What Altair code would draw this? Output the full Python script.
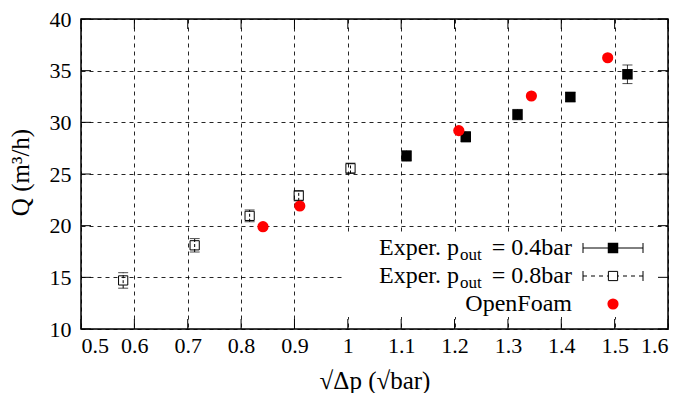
import altair as alt
import pandas as pd

# ---- data ----
x_04 = [1.110, 1.221, 1.318, 1.417, 1.524]
q_04 = [26.75, 28.6, 30.75, 32.45, 34.65]
e_04 = [0.5, 0.5, 0.5, 0.45, 0.9]

x_08 = [0.579, 0.713, 0.816, 0.908, 1.005]
q_08 = [14.7, 18.1, 20.95, 22.9, 25.55]
e_08 = [0.75, 0.65, 0.57, 0.5, 0.5]

x_of = [0.841, 0.910, 1.208, 1.344, 1.487]
q_of = [19.9, 21.9, 29.2, 32.55, 36.25]

x_ticks = [0.5, 0.6, 0.7, 0.8, 0.9, 1.0, 1.1, 1.2, 1.3, 1.4, 1.5, 1.6]
y_ticks = [10, 15, 20, 25, 30, 35, 40]

W, H = 587, 310
FONT = "Liberation Serif"

df04 = pd.DataFrame({"x": x_04, "q": q_04, "e": e_04})
df08 = pd.DataFrame({"x": x_08, "q": q_08, "e": e_08})
dfof = pd.DataFrame({"x": x_of, "q": q_of})
dfx = pd.DataFrame({"t": x_ticks})
dfy = pd.DataFrame({"t": y_ticks})
one = pd.DataFrame({"a": [0]})

xs = alt.Scale(domain=[0.5, 1.6], nice=False, zero=False)
ys = alt.Scale(domain=[10, 40], nice=False, zero=False)

xax = alt.Axis(values=x_ticks, format="~g", grid=True, gridDash=[4, 4], gridColor="#000",
               gridOpacity=0.85, domain=False, ticks=False, labelFont=FONT, labelFontSize=22,
               labelColor="#000", labelPadding=6, title="√Δp (√bar)", titleFont=FONT,
               titleFontSize=25, titleFontWeight="normal", titleColor="#000",
               titleX=W / 2, titleY=51, titleBaseline="middle", titleAnchor="middle")
yax = alt.Axis(values=y_ticks, grid=True, gridDash=[4, 4], gridColor="#000", gridOpacity=0.85,
               domain=False, ticks=False, labelFont=FONT, labelFontSize=22, labelColor="#000",
               labelPadding=10, title="Q (m³/h)", titleFont=FONT, titleFontSize=25,
               titleFontWeight="normal", titleColor="#000", titleX=-61, titleY=H / 2 - 2,
               titleAngle=-90, titleBaseline="middle", titleAlign="center")

base_grid = alt.Chart(dfof).mark_point(opacity=0).encode(
    x=alt.X("x:Q", scale=xs, axis=xax), y=alt.Y("q:Q", scale=ys, axis=yax))

# legend white box
leg_box = alt.Chart(one).mark_rect(fill="white").encode(
    x=alt.value(264), x2=alt.value(W), y=alt.value(214), y2=alt.value(298))

def errbars(df, dash):
    b = alt.Chart(df).transform_calculate(lo="datum.q - datum.e", hi="datum.q + datum.e")
    r = b.mark_rule(color="#000", strokeWidth=1, strokeDash=dash).encode(
        x=alt.X("x:Q", scale=xs), y=alt.Y("lo:Q", scale=ys), y2="hi:Q")
    c1 = b.mark_tick(orient="horizontal", size=10, thickness=1, color="#000").encode(
        x=alt.X("x:Q", scale=xs), y=alt.Y("lo:Q", scale=ys))
    c2 = b.mark_tick(orient="horizontal", size=10, thickness=1, color="#000").encode(
        x=alt.X("x:Q", scale=xs), y=alt.Y("hi:Q", scale=ys))
    return r + c1 + c2

eb04 = errbars(df04, [1, 0])
eb08 = errbars(df08, [3, 2])

sq04 = alt.Chart(df04).mark_square(size=110, color="#000", opacity=1).encode(
    x=alt.X("x:Q", scale=xs), y=alt.Y("q:Q", scale=ys))
sq08 = alt.Chart(df08).mark_point(shape="square", size=85, filled=False, color="#000",
                                  strokeWidth=1, opacity=1).encode(
    x=alt.X("x:Q", scale=xs), y=alt.Y("q:Q", scale=ys))
of = alt.Chart(dfof).mark_circle(size=125, color="#ff0000", opacity=1).encode(
    x=alt.X("x:Q", scale=xs), y=alt.Y("q:Q", scale=ys))

# inward ticks on all four sides
tk_b = alt.Chart(dfx).mark_rule(color="#000").encode(
    x=alt.X("t:Q", scale=xs), y=alt.value(H), y2=alt.value(H - 10))
tk_t = alt.Chart(dfx).mark_rule(color="#000").encode(
    x=alt.X("t:Q", scale=xs), y=alt.value(0), y2=alt.value(10))
tk_l = alt.Chart(dfy).mark_rule(color="#000").encode(
    y=alt.Y("t:Q", scale=ys), x=alt.value(0), x2=alt.value(10))
tk_r = alt.Chart(dfy).mark_rule(color="#000").encode(
    y=alt.Y("t:Q", scale=ys), x=alt.value(W), x2=alt.value(W - 10))

frame = alt.Chart(one).mark_rect(filled=False, stroke="#000", strokeWidth=1.5).encode(
    x=alt.value(0), x2=alt.value(W), y=alt.value(0), y2=alt.value(H))

# custom legend
rows = [229, 257, 285]
lx0, lx1, lc = 502, 562, 532
txt = dict(font=FONT, fontSize=24, color="#000", baseline="middle")
leg = []
for i, lab in enumerate(["= 0.4bar", "= 0.8bar"]):
    yy = rows[i]
    leg.append(alt.Chart(one).mark_text(align="right", **txt).encode(
        x=alt.value(378), y=alt.value(yy), text=alt.value("Exper. p")))
    leg.append(alt.Chart(one).mark_text(align="left", font=FONT, fontSize=17, color="#000",
                                        baseline="middle").encode(
        x=alt.value(379), y=alt.value(yy + 7), text=alt.value("out")))
    leg.append(alt.Chart(one).mark_text(align="right", **txt).encode(
        x=alt.value(491), y=alt.value(yy), text=alt.value(lab)))
leg.append(alt.Chart(one).mark_text(align="right", **txt).encode(
    x=alt.value(491), y=alt.value(rows[2]), text=alt.value("OpenFoam")))
for i, dash in enumerate([[1, 0], [4, 4]]):
    yy = rows[i]
    leg.append(alt.Chart(one).mark_rule(color="#000", strokeDash=dash).encode(
        x=alt.value(lx0), x2=alt.value(lx1), y=alt.value(yy)))
    for xx in (lx0, lx1):
        leg.append(alt.Chart(one).mark_rule(color="#000").encode(
            x=alt.value(xx), y=alt.value(yy - 5), y2=alt.value(yy + 5)))
leg.append(alt.Chart(one).mark_square(size=110, color="#000", opacity=1).encode(
    x=alt.value(lc), y=alt.value(rows[0])))
leg.append(alt.Chart(one).mark_point(shape="square", size=85, filled=True, fill="white",
                                     stroke="#000", strokeWidth=1, opacity=1).encode(
    x=alt.value(lc), y=alt.value(rows[1])))
leg.append(alt.Chart(one).mark_circle(size=125, color="#ff0000", opacity=1).encode(
    x=alt.value(lc), y=alt.value(rows[2])))

chart = alt.layer(base_grid, leg_box, eb08, eb04, sq08, sq04, of, tk_b, tk_t, tk_l, tk_r,
                  frame, *leg).properties(
    width=W, height=H,
    autosize=alt.AutoSizeParams(type="none"),
    padding={"left": 73, "top": 11, "right": 9, "bottom": 64},
).configure_view(stroke=None).configure(background="white")

chart.save("out.html", embed_options={"renderer": "svg", "actions": False})
